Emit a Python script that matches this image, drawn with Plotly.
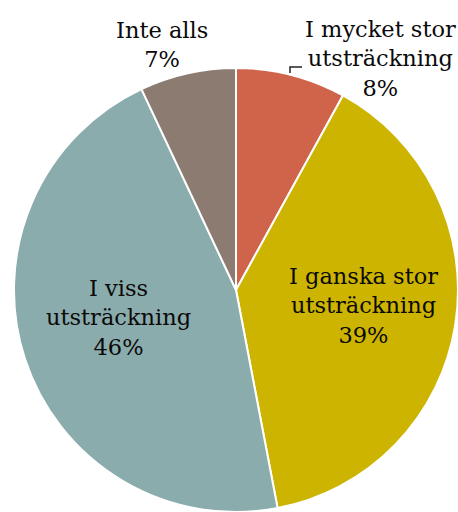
import plotly.graph_objects as go

# Survey answers, clockwise from 12 o'clock
categories = ["I mycket stor utsträckning", "I ganska stor utsträckning",
              "I viss utsträckning", "Inte alls"]
label_lines = [["I mycket stor", "utsträckning"],
               ["I ganska stor", "utsträckning"],
               ["I viss", "utsträckning"],
               ["Inte alls"]]
shares = [8, 39, 46, 7]
colors = ["#D0644B", "#CDB400", "#8AACAC", "#8C7B71"]

W, H = 458, 512
FONT = "Georgia, 'DejaVu Serif', serif"

fig = go.Figure()
fig.add_trace(go.Pie(
    labels=categories,
    values=shares,
    sort=False,
    direction="clockwise",
    rotation=0,
    marker=dict(colors=colors, line=dict(color="white", width=2)),
    textinfo="none",
    hoverinfo="label+percent",
    showlegend=False,
    domain=dict(x=[14 / W, 1], y=[0, 444 / H]),
))

# label anchor points (pixel centres of each text block)
label_pos = [(380, 58), (363, 305), (118, 317), (162, 44)]
for lines, val, (px, py) in zip(label_lines, shares, label_pos):
    fig.add_annotation(
        text="<br>".join(lines + [f"{val}%"]),
        x=px / W, y=1 - py / H, xref="paper", yref="paper",
        xanchor="center", yanchor="middle", showarrow=False,
        align="center",
        font=dict(family=FONT, size=22.5, color="#0A0A0A"),
    )

# small leader bracket for the top-right label
fig.add_shape(type="path", xref="paper", yref="paper",
              path=f"M {290 / W} {1 - 73 / H} L {290 / W} {1 - 67 / H} L {302 / W} {1 - 67 / H}",
              line=dict(color="#222222", width=1.5))

fig.update_layout(
    width=W, height=H,
    margin=dict(l=0, r=0, t=0, b=0),
    paper_bgcolor="white", plot_bgcolor="white",
)
fig.write_html("out.html")
